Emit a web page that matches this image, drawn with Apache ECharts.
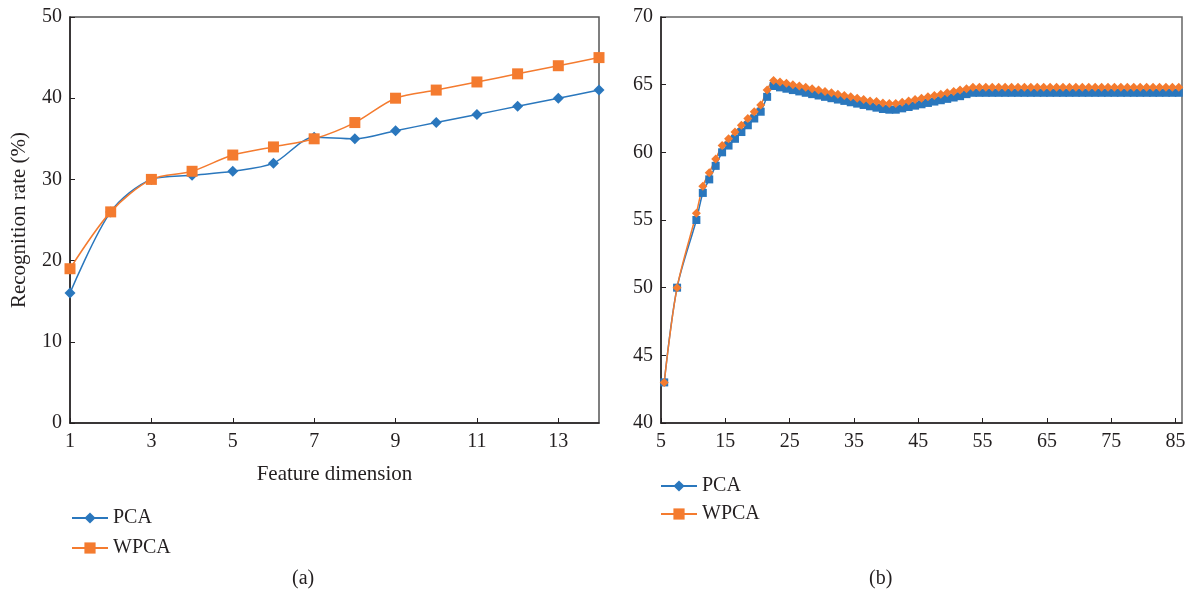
<!DOCTYPE html>
<html>
<head>
<meta charset="utf-8">
<script src="https://cdn.jsdelivr.net/npm/echarts@6/dist/echarts.min.js"></script>
<style>html,body{margin:0;padding:0;background:#fff}#c{width:1191px;height:595px}</style>
</head>
<body>
<div id="c"></div>
<script>
// ---- Chart (a) data ----
const dimA = [1, 2, 3, 4, 5, 6, 7, 8, 9, 10, 11, 12, 13, 14];
const pcaA = [16, 26, 30, 30.5, 31, 32, 35.2, 35, 36, 37, 38, 39, 40, 41];
const wpcaA = [19, 26, 30, 31, 33, 34, 35, 37, 40, 41, 42, 43, 44, 45];
const xTicksA = [1, 3, 5, 7, 9, 11, 13];

// ---- Chart (b) data ----
const dimB = [5.5, 7.5, 10.5, 11.5, 12.5, 13.5, 14.5, 15.5, 16.5, 17.5, 18.5, 19.5, 20.5, 21.5, 22.5,
  23.5, 24.5, 25.5, 26.5, 27.5, 28.5, 29.5, 30.5, 31.5, 32.5, 33.5, 34.5, 35.5, 36.5, 37.5, 38.5, 39.5, 40.5,
  41.5, 42.5, 43.5, 44.5, 45.5, 46.5, 47.5, 48.5, 49.5, 50.5, 51.5, 52.5, 53.5,
  54.5, 55.5, 56.5, 57.5, 58.5, 59.5, 60.5, 61.5, 62.5, 63.5, 64.5, 65.5, 66.5, 67.5, 68.5, 69.5,
  70.5, 71.5, 72.5, 73.5, 74.5, 75.5, 76.5, 77.5, 78.5, 79.5, 80.5, 81.5, 82.5, 83.5, 84.5, 85.5];
const pcaB = [43, 50, 55, 57, 58, 59, 60, 60.5, 61, 61.5, 62, 62.5, 63, 64.1, 64.9,
  64.8, 64.7, 64.6, 64.5, 64.4, 64.3, 64.2, 64.1, 64.0, 63.9, 63.8, 63.7, 63.6, 63.5, 63.4, 63.3, 63.2, 63.15,
  63.15, 63.25, 63.35, 63.45, 63.55, 63.65, 63.75, 63.85, 63.95, 64.05, 64.15, 64.3, 64.4,
  64.4, 64.4, 64.4, 64.4, 64.4, 64.4, 64.4, 64.4, 64.4, 64.4, 64.4, 64.4, 64.4, 64.4, 64.4, 64.4,
  64.4, 64.4, 64.4, 64.4, 64.4, 64.4, 64.4, 64.4, 64.4, 64.4, 64.4, 64.4, 64.4, 64.4, 64.4, 64.4];
const wpcaB = [43, 50, 55.5, 57.5, 58.5, 59.5, 60.5, 61, 61.5, 62, 62.5, 63, 63.5, 64.6, 65.3,
  65.2, 65.1, 65.0, 64.9, 64.8, 64.7, 64.6, 64.5, 64.4, 64.3, 64.2, 64.1, 64.0, 63.9, 63.8, 63.75, 63.65, 63.6,
  63.6, 63.7, 63.8, 63.9, 64.0, 64.1, 64.2, 64.3, 64.4, 64.5, 64.6, 64.7, 64.8,
  64.8, 64.8, 64.8, 64.8, 64.8, 64.8, 64.8, 64.8, 64.8, 64.8, 64.8, 64.8, 64.8, 64.8, 64.8, 64.8,
  64.8, 64.8, 64.8, 64.8, 64.8, 64.8, 64.8, 64.8, 64.8, 64.8, 64.8, 64.8, 64.8, 64.8, 64.8, 64.8];
const xTicksB = [5, 15, 25, 35, 45, 55, 65, 75, 85];

const seriesNames = ['PCA', 'WPCA'];
const xNameA = 'Feature dimension';
const yNameA = 'Recognition rate (%)';
const panelLabels = ['(a)', '(b)'];

const BLUE = '#2A77BD';
const ORANGE = '#F47B2F';
const TXT = '#231F20';
const FONT = 'Liberation Serif';

const zip = (xs, ys) => xs.map((x, i) => [x, ys[i]]);

const axisLineStyle = { show: true, lineStyle: { color: TXT, width: 1.5 } };
const labelStyle = { color: TXT, fontFamily: FONT, fontSize: 20 };
const legendText = { fontFamily: FONT, fontSize: 20, color: TXT };

const chart = echarts.init(document.getElementById('c'), null, { renderer: 'canvas' });
chart.setOption({
  animation: false,
  backgroundColor: '#fff',
  textStyle: { fontFamily: FONT, color: TXT },
  title: [
    { text: panelLabels[0], left: 292, top: 569, padding: 0, textStyle: { fontFamily: FONT, fontSize: 20, fontWeight: 'normal', color: TXT } },
    { text: panelLabels[1], left: 869, top: 569, padding: 0, textStyle: { fontFamily: FONT, fontSize: 20, fontWeight: 'normal', color: TXT } }
  ],
  legend: [
    { data: seriesNames, orient: 'vertical', left: 66, top: 503, itemWidth: 36, itemHeight: 14, itemGap: 10,
      textStyle: legendText, selectedMode: false },
    { data: seriesNames, orient: 'vertical', left: 655, top: 471, itemWidth: 36, itemHeight: 14, itemGap: 8,
      textStyle: legendText, selectedMode: false }
  ],
  grid: [
    { left: 70, right: 592, top: 17, bottom: 172, show: true, borderColor: '#555', borderWidth: 1.5 },
    { left: 661, right: 9, top: 17, bottom: 172, show: true, borderColor: '#666', borderWidth: 1.5 }
  ],
  xAxis: [
    { type: 'value', gridIndex: 0, min: 1, max: 14,
      name: xNameA, nameLocation: 'middle', nameGap: 41,
      nameTextStyle: { fontFamily: FONT, fontSize: 21, color: TXT },
      axisLine: axisLineStyle,
      axisTick: { inside: true, length: 5, lineStyle: { color: TXT }, customValues: xTicksA },
      axisLabel: Object.assign({ margin: 9, customValues: xTicksA }, labelStyle),
      splitLine: { show: false } },
    { type: 'value', gridIndex: 1, min: 5, max: 86,
      axisLine: axisLineStyle,
      axisTick: { inside: true, length: 5, lineStyle: { color: TXT }, customValues: xTicksB },
      axisLabel: Object.assign({ margin: 9, customValues: xTicksB }, labelStyle),
      splitLine: { show: false } }
  ],
  yAxis: [
    { type: 'value', gridIndex: 0, min: 0, max: 50, interval: 10,
      name: yNameA, nameLocation: 'middle', nameGap: 40, nameRotate: 90,
      nameTextStyle: { fontFamily: FONT, fontSize: 21, color: TXT },
      axisLine: axisLineStyle,
      axisTick: { inside: true, length: 5, lineStyle: { color: TXT } },
      axisLabel: Object.assign({ margin: 8 }, labelStyle),
      splitLine: { show: false } },
    { type: 'value', gridIndex: 1, min: 40, max: 70, interval: 5,
      axisLine: axisLineStyle,
      axisTick: { inside: true, length: 5, lineStyle: { color: TXT } },
      axisLabel: Object.assign({ margin: 8 }, labelStyle),
      splitLine: { show: false } }
  ],
  series: [
    { name: seriesNames[0], type: 'line', xAxisIndex: 0, yAxisIndex: 0, data: zip(dimA, pcaA),
      smooth: 0.3, symbol: 'diamond', symbolSize: 11,
      lineStyle: { color: BLUE, width: 1.5 }, itemStyle: { color: BLUE } },
    { name: seriesNames[1], type: 'line', xAxisIndex: 0, yAxisIndex: 0, data: zip(dimA, wpcaA),
      smooth: 0.3, symbol: 'rect', symbolSize: 11,
      lineStyle: { color: ORANGE, width: 1.5 }, itemStyle: { color: ORANGE } },
    { name: seriesNames[0], type: 'line', xAxisIndex: 1, yAxisIndex: 1, data: zip(dimB, pcaB),
      smooth: 0.3, symbol: 'rect', symbolSize: 8,
      lineStyle: { color: BLUE, width: 1.5 }, itemStyle: { color: BLUE } },
    { name: seriesNames[1], type: 'line', xAxisIndex: 1, yAxisIndex: 1, data: zip(dimB, wpcaB),
      smooth: 0.3, symbol: 'diamond', symbolSize: 9,
      lineStyle: { color: ORANGE, width: 1.5 }, itemStyle: { color: ORANGE } }
  ]
});
</script>
</body>
</html>
